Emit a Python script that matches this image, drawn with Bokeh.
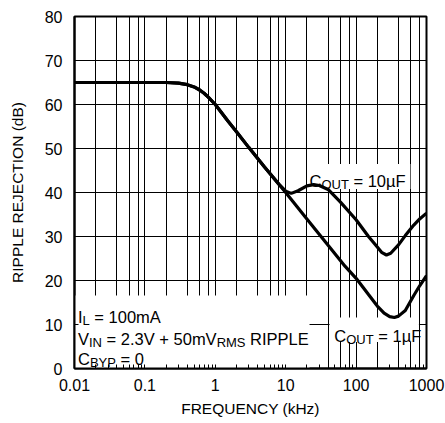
from bokeh.plotting import figure
from bokeh.models import FixedTicker, BoxAnnotation, Label, CustomJSTickFormatter, Range1d
from bokeh.embed import file_html
from bokeh.resources import INLINE

# ---- data ----
freq_1uF = [0.01, 0.1, 0.2, 0.3, 0.4, 0.5, 0.6, 0.7, 0.8, 1.0, 1.5, 2, 3, 5, 10, 20, 40, 70,
            100, 150, 200, 250, 300, 350, 400, 500, 660, 800, 1000]
rr_1uF = [65, 65, 65, 64.85, 64.5, 64, 63.3, 62.5, 61.6, 60, 56.3, 53.8, 50.2, 45.8, 40, 34, 28, 23.2,
          20.5, 16.8, 14.2, 12.6, 11.8, 11.6, 11.9, 13.2, 16.6, 18.8, 21.1]

freq_10uF = [0.01, 0.1, 0.2, 0.3, 0.4, 0.5, 0.6, 0.7, 0.8, 1.0, 1.5, 2, 3, 5, 8, 10, 12, 15, 20, 25,
             30, 40, 60, 100, 150, 200, 230, 270, 310, 400, 500, 660, 800, 1000]
rr_10uF = [65, 65, 65, 64.85, 64.5, 64, 63.3, 62.5, 61.6, 60, 56.3, 53.8, 50.2, 45.8, 41.9, 40.3, 39.8,
           40.4, 41.5, 41.8, 41.6, 40.7, 37.8, 33.8, 30.0, 27.6, 26.4, 25.8, 26.2, 28.1, 30.2, 32.6, 34.0, 35.3]

x_ticks = [0.01, 0.1, 1, 10, 100, 1000]
y_ticks = [0, 10, 20, 30, 40, 50, 60, 70, 80]

FONT = "Liberation Sans"
MAIN = 16.5
SUB = 13

decades = [0.01, 0.1, 1, 10, 100]
x_minor = [m * d for d in decades for m in range(2, 10)]
x_grid = [m * d for d in decades for m in (2, 4, 6, 8, 10)]

p = figure(width=445, height=423, x_axis_type="log",
           x_range=Range1d(0.01, 1000), y_range=Range1d(0, 80),
           output_backend="svg", toolbar_location=None,
           min_border_left=74, min_border_right=19, min_border_top=16, min_border_bottom=55)

p.background_fill_color = "white"
p.border_fill_color = "white"
p.outline_line_color = "black"
p.outline_line_width = 2

# grids
p.xgrid.ticker = FixedTicker(ticks=x_grid)
p.ygrid.ticker = FixedTicker(ticks=y_ticks)
for g in (p.xgrid, p.ygrid):
    g.grid_line_color = "black"
    g.grid_line_width = 1
    g.grid_line_alpha = 1.0

# axes
p.xaxis.ticker = FixedTicker(ticks=x_ticks, minor_ticks=x_minor)
p.xaxis.formatter = CustomJSTickFormatter(code="return String(Number(tick.toPrecision(6)));")
p.yaxis.ticker = FixedTicker(ticks=y_ticks)
for ax in (p.xaxis, p.yaxis):
    ax.axis_line_color = "black"
    ax.axis_line_width = 2
    ax.major_tick_in = 4
    ax.major_tick_out = 0
    ax.minor_tick_in = 4
    ax.minor_tick_out = 0
    ax.major_tick_line_color = "black"
    ax.minor_tick_line_color = "black"
    ax.major_label_text_font = FONT
    ax.major_label_text_font_size = "16px"
    ax.major_label_text_color = "black"
    ax.axis_label_text_font = FONT
    ax.axis_label_text_font_size = "15.5px"
    ax.axis_label_text_font_style = "normal"
    ax.axis_label_text_color = "black"
p.yaxis.minor_tick_in = 0
p.xaxis.major_label_standoff = 10
p.xaxis.axis_label_standoff = 6
p.yaxis.major_label_standoff = 12
p.yaxis.axis_label_standoff = 16
p.xaxis.axis_label = "FREQUENCY (kHz)"
p.yaxis.axis_label = "RIPPLE REJECTION (dB)"

# white masks behind the labels (drawn over the grid, under the curves)
for (l, r, b, t) in [(0.01, 21.8, 0, 16.6), (20.9, 590, 40.8, 46.5), (42, 780, 6.0, 11.6)]:
    box = BoxAnnotation(left=l, right=r, bottom=b, top=t, fill_color="white", fill_alpha=1.0,
                        line_color=None, level="underlay")
    p.add_layout(box)

# curves
p.line(freq_1uF, rr_1uF, line_color="black", line_width=3.2)
p.line(freq_10uF, rr_10uF, line_color="black", line_width=3.2)

# text with subscripts
W = {" ": 278, "=": 584, ".": 278, "+": 584, "0": 556, "1": 556, "2": 556, "3": 556, "5": 556,
     "A": 667, "B": 667, "C": 722, "E": 667, "F": 611, "I": 278, "L": 556, "M": 833, "N": 722,
     "O": 778, "P": 667, "R": 722, "S": 667, "T": 611, "U": 722, "V": 667, "Y": 667, "m": 833,
     "µ": 576}


def tw(s, size):
    return sum(W.get(c, 556) for c in s) / 1000.0 * size


def rich(x, y, parts):
    off = 0.0
    for txt, sub in parts:
        size = SUB if sub else MAIN
        lead = len(txt) - len(txt.lstrip(" "))
        core = txt.strip(" ")
        off += tw(" " * lead, size)
        p.add_layout(Label(x=x, y=y, x_offset=off, y_offset=(-3.5 if sub else 0), text=core,
                           text_font=FONT, text_font_size=f"{size}px", text_color="black",
                           text_baseline="alphabetic", text_align="left"))
        off += tw(txt.lstrip(" "), size)


rich(0.0112, 11.7, [("I", False), ("L", True), (" = 100mA", False)])
rich(0.0112, 6.75, [("V", False), ("IN", True), (" = 2.3V + 50mV", False), ("RMS", True), (" RIPPLE", False)])
rich(0.0112, 2.2, [("C", False), ("BYP", True), (" = 0", False)])
rich(21.8, 42.7, [("C", False), ("OUT", True), (" = 10µF", False)])
rich(49, 7.5, [("C", False), ("OUT", True), (" = 1µF", False)])

open("out.html", "w").write(file_html(p, INLINE))
